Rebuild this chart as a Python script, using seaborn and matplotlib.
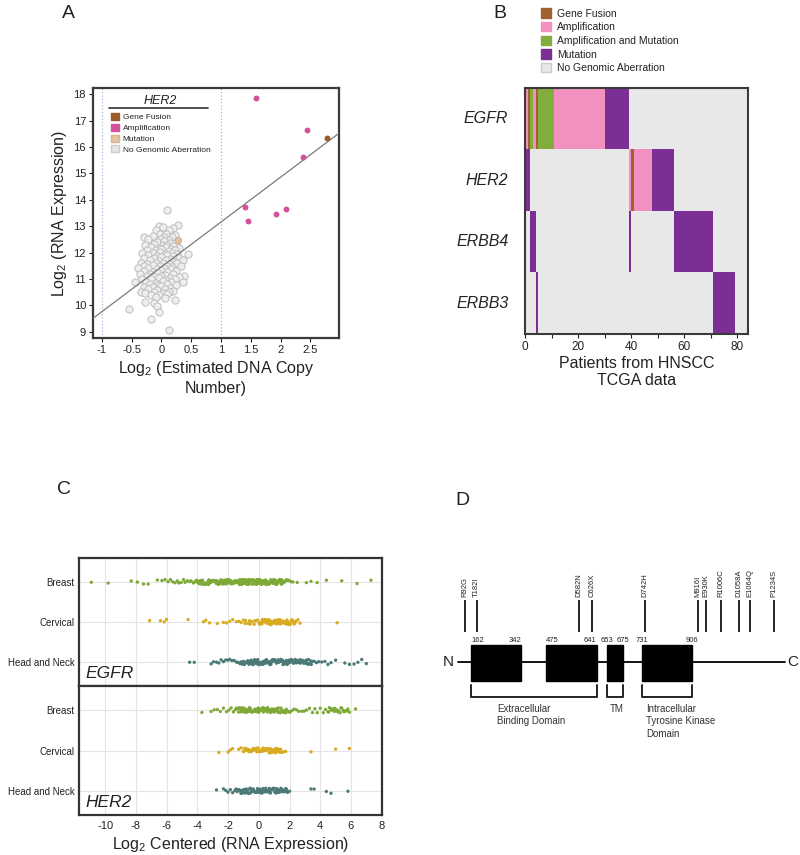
import numpy as np
import pandas as pd
import matplotlib
matplotlib.use("Agg")
import matplotlib.pyplot as plt
import seaborn as sns
from matplotlib.colors import ListedColormap
from matplotlib.patches import Patch, Rectangle
from matplotlib.lines import Line2D

# ---------------- data ----------------
# Panel A: HER2 copy number vs RNA expression
gray_x = [0.10, 0.28, -0.05, 0.02, 0.20, -0.10, 0.12, -0.02, 0.08, 0.22, -0.30, -0.15, 0.05, 0.18,
          -0.22, 0.00, 0.12, -0.08, 0.05, 0.15, 0.25, -0.28, -0.12, 0.02, 0.10, 0.20, -0.18, -0.05,
          0.08, 0.16, 0.30, -0.25, -0.10, 0.00, 0.12, 0.22, -0.32, -0.15, -0.02, 0.06, 0.18, 0.26,
          0.44, -0.22, -0.08, 0.10, 0.20, -0.30, -0.12, 0.00, 0.14, 0.30, -0.20, -0.05, 0.08, 0.22,
          0.36, -0.35, -0.25, -0.10, 0.02, 0.12, 0.26, -0.30, -0.15, -0.02, 0.10, 0.18, 0.32, -0.40,
          -0.22, -0.08, 0.04, 0.16, -0.30, -0.14, 0.00, 0.10, 0.24, 0.38, -0.36, -0.20, -0.06, 0.06,
          0.20, -0.25, -0.12, 0.00, 0.14, 0.30, -0.32, -0.18, -0.04, 0.08, 0.22, -0.45, -0.26, -0.10,
          0.02, 0.16, 0.36, -0.20, -0.06, 0.10, 0.24, -0.30, -0.14, 0.00, 0.14, -0.22, -0.08, 0.06,
          0.20, -0.35, -0.28, -0.12, 0.02, 0.12, -0.18, -0.04, 0.10, -0.10, 0.06, 0.22, -0.28, -0.12,
          -0.08, -0.54, -0.05, -0.17, 0.13]
gray_y = [13.62, 13.05, 13.00, 12.98, 12.95, 12.85, 12.86, 12.72, 12.70, 12.68, 12.60, 12.62, 12.60, 12.58,
          12.50, 12.52, 12.48, 12.40, 12.42, 12.38, 12.35, 12.30, 12.32, 12.28, 12.30, 12.26, 12.20, 12.18,
          12.22, 12.15, 12.18, 12.10, 12.08, 12.12, 12.05, 12.10, 12.00, 11.98, 12.02, 11.96, 12.00, 11.95,
          11.93, 11.90, 11.88, 11.90, 11.86, 11.80, 11.78, 11.82, 11.76, 11.80, 11.70, 11.68, 11.72, 11.66,
          11.70, 11.60, 11.58, 11.62, 11.60, 11.56, 11.60, 11.50, 11.52, 11.48, 11.50, 11.46, 11.50, 11.40,
          11.42, 11.38, 11.40, 11.36, 11.30, 11.28, 11.32, 11.26, 11.30, 11.12, 11.20, 11.18, 11.22, 11.16,
          11.20, 11.10, 11.08, 11.10, 11.05, 11.08, 11.00, 10.98, 11.02, 10.96, 11.00, 10.88, 10.90, 10.86,
          10.92, 10.88, 10.90, 10.80, 10.78, 10.82, 10.76, 10.70, 10.68, 10.72, 10.66, 10.60, 10.58, 10.62,
          10.56, 10.50, 10.48, 10.52, 10.46, 10.50, 10.40, 10.38, 10.42, 10.30, 10.28, 10.20, 10.12, 10.08,
          9.98, 9.87, 9.75, 9.48, 9.08]
amp_x = [1.58, 2.45, 2.38, 1.40, 1.46, 1.93, 2.09]
amp_y = [17.85, 16.64, 15.62, 13.72, 13.18, 13.48, 13.65]
fusion_x = [2.78]
fusion_y = [16.35]
mut_x = [0.27]
mut_y = [12.46]
fit_slope = 1.70
fit_intercept = 11.46

# Panel B: aberrations per patient (run lengths, 84 patients)
categories = ["Gene Fusion", "Amplification", "Amplification and Mutation", "Mutation",
              "No Genomic Aberration"]
genes = ["EGFR", "HER2", "ERBB4", "ERBB3"]
egfr_runs = [("Amplification", 1), ("Gene Fusion", 1), ("Amplification and Mutation", 1),
             ("Amplification", 1), ("Gene Fusion", 1), ("Amplification and Mutation", 6),
             ("Amplification", 19), ("Mutation", 9), ("No Genomic Aberration", 45)]
her2_runs = [("Mutation", 2), ("No Genomic Aberration", 37), ("Amplification", 1), ("Gene Fusion", 1),
             ("Amplification", 7), ("Mutation", 8), ("No Genomic Aberration", 28)]
erbb4_runs = [("No Genomic Aberration", 2), ("Mutation", 2), ("No Genomic Aberration", 35),
              ("Mutation", 1), ("No Genomic Aberration", 16), ("Mutation", 15),
              ("No Genomic Aberration", 13)]
erbb3_runs = [("No Genomic Aberration", 4), ("Mutation", 1), ("No Genomic Aberration", 66),
              ("Mutation", 8), ("No Genomic Aberration", 5)]

# Panel C: log2 centered RNA expression
tissues = ["Breast", "Cervical", "Head and Neck"]
egfr_breast = [-10.9, -9.8, -8.3, -7.9, -7.5, -7.2, -6.6, -6.3, -6.1, -5.9, -5.75, -5.6, -5.45, -5.3,
               -5.2, -5.05, -4.9, -4.8, -4.65, -4.5, -4.4, -4.25, -4.15,
               -4.05, -3.98, -3.9, -3.84, -3.77, -3.7, -3.63, -3.57, -3.5, -3.43, -3.37, -3.3, -3.24,
               -3.17, -3.1, -3.04, -2.97, -2.9, -2.84, -2.78, -2.71, -2.65, -2.58, -2.52, -2.45, -2.39,
               -2.32, -2.26, -2.2, -2.13, -2.07, -2.0, -1.94, -1.87, -1.81, -1.75, -1.68, -1.62, -1.55,
               -1.49, -1.42, -1.36, -1.3, -1.23, -1.17, -1.1, -1.04, -0.98, -0.91, -0.85, -0.78, -0.72,
               -0.66, -0.59, -0.53, -0.46, -0.4, -0.34, -0.27, -0.21, -0.14, -0.08, -0.02, 0.05, 0.11,
               0.18, 0.24, 0.3, 0.37, 0.43, 0.5, 0.56, 0.63, 0.69, 0.75, 0.82, 0.88, 0.95, 1.01, 1.08,
               1.14, 1.2, 1.27, 1.33, 1.4, 1.47, 1.53, 1.6, 1.68, 1.77, 1.86,
               -2.47, -2.36, -2.28, -2.16, -2.05, -1.97, -1.84, -1.76, -1.65, -1.53, -1.46, -1.33, -1.26,
               -1.14, -1.06, -0.95, -0.83, -0.75, -0.64, -0.56, -0.43, -0.36, -0.25, -0.12, -0.05, 0.07,
               0.15, 0.26, 0.34, 0.46, 0.53, 0.65, 0.74, 0.86, 0.93, 1.05, 1.16,
               -3.93, -3.8, -3.66, -3.53, -3.4, -3.27, -3.14, -3.01, -2.88, -2.75, -2.62, -2.55, -2.42,
               -2.3, -2.23, -2.1, -1.99, -1.91, -1.79, -1.71, -1.6, -1.51, -1.39, -1.28, -1.2, -1.08,
               -1.0, -0.88, -0.8, -0.69, -0.61, -0.5, -0.38, -0.3, -0.18, -0.1, 0.01, 0.09, 0.2, 0.28,
               0.4, 0.48, 0.59, 0.67, 0.78, 0.9, 0.98, 1.1, 1.23, 1.36, 1.5, 1.64, 1.8,
               1.97, 2.1, 2.22, 2.5, 3.1, 3.4, 3.8, 4.4, 5.4, 6.4, 7.3]
egfr_cervical = [-7.1, -6.4, -6.15, -6.0, -4.6, -3.6, -3.45, -3.2, -2.7, -2.3, -2.1, -1.9, -1.7, -1.45,
                 -1.3, -1.15, -1.0, -0.85, -0.7, -0.6, -0.45, -0.3, -0.2, -0.08,
                 0.02, 0.1, 0.17, 0.24, 0.3, 0.38, 0.45, 0.51, 0.58, 0.66, 0.72, 0.79, 0.86, 0.93, 1.0,
                 1.07, 1.14, 1.2, 1.28, 1.35, 1.41, 1.48, 1.56, 1.62, 1.7, 1.77, 1.84, 1.9, 1.98, 2.05,
                 2.12, 2.2, 2.3, 2.41, 2.55, 2.68, 0.35, 0.6, 0.83, 1.1, 1.3, 1.55, 1.8, 2.0,
                 -0.9, -0.55, -0.25, 0.06, 0.21, 0.42, 0.55, 0.7, 0.9, 1.03, 1.17, 1.24, 1.38, 1.45,
                 1.6, 1.66, 1.87, 1.95, 2.16, 2.25, 2.36, 5.1]
egfr_hnsc = [-4.5, -4.2, -3.1, -2.95, -2.75, -2.6, -2.45, -2.3, -2.15, -2.0, -1.9, -1.75, -1.6, -1.45,
             -1.35, -1.22, -1.15, -1.08, -1.0, -0.93, -0.86, -0.79, -0.72, -0.64, -0.57, -0.5, -0.43,
             -0.36, -0.28, -0.21, -0.14, -0.07, 0.0, 0.07, 0.14, 0.21, 0.29, 0.36, 0.43, 0.5, 0.57,
             0.64, 0.72, 0.79, 0.86, 0.93, 1.0, 1.07, 1.15, 1.22, 1.29, 1.36, 1.43, 1.5, 1.58, 1.65,
             1.72, 1.79, 1.86, 1.93, 2.01, 2.08, 2.15, 2.22, 2.29, 2.36, 2.44, 2.51, 2.58, 2.65, 2.72,
             2.8, 2.87, 2.94, 3.01, 3.08, 3.16, 3.23, 3.3, 3.38, 3.46,
             -0.95, -0.68, -0.4, -0.1, 0.18, 0.47, 0.75, 1.04, 1.33, 1.62, 1.9, 2.2, 2.48, 2.77, 3.05,
             -1.18, -1.04, -0.9, -0.76, -0.6, -0.47, -0.32, -0.18, -0.03, 0.1, 0.25, 0.39, 0.53, 0.68,
             0.83, 0.97, 1.11, 1.26, 1.4, 1.54, 1.69, 1.83, 1.97, 2.12, 2.26, 2.4, 2.55, 2.69, 2.84,
             2.98, 3.12, 3.27, 3.42,
             3.6, 3.75, 3.9, 4.1, 4.3, 4.5, 4.7, 5.0, 5.6, 5.9, 6.2, 6.45, 6.7, 7.0]
her2_breast = [-3.7, -3.1, -2.9, -2.7, -2.5, -2.3, -2.1, -1.95, -1.8, -1.65, -1.52,
               -1.45, -1.38, -1.31, -1.24, -1.17, -1.1, -1.03, -0.96, -0.89, -0.82, -0.75, -0.68,
               -0.61, -0.54, -0.47, -0.4, -0.33, -0.26, -0.19, -0.12, -0.05, 0.02, 0.09, 0.16, 0.23,
               0.3, 0.37, 0.44, 0.51, 0.58, 0.65, 0.72, 0.79, 0.86, 0.93, 1.0, 1.07, 1.14, 1.21, 1.28,
               1.36, 1.44, 1.52, 1.61, 1.7, 1.8, 1.9, 2.02, 2.15,
               -1.2, -0.9, -0.6, -0.3, 0.0, 0.3, 0.6, 0.9, 1.2,
               -1.42, -1.28, -1.14, -1.0, -0.86, -0.72, -0.57, -0.43, -0.29, -0.15, -0.01, 0.13, 0.27,
               0.41, 0.55, 0.69, 0.83, 0.97, 1.11, 1.25, 1.4, 1.56, 1.75, 1.95,
               2.3, 2.45, 2.6, 2.8, 2.95, 3.1, 3.3, 3.5, 3.65, 3.8, 4.0, 4.2, 4.35, 4.5, 4.6, 4.7, 4.8,
               4.9, 5.0, 5.1, 5.2, 5.3, 5.4, 5.5, 5.6, 5.7, 5.8, 5.9, 6.3,
               4.55, 4.75, 4.95, 5.15, 5.35, 5.55, 5.75]
her2_cervical = [-2.6, -2.0, -1.85, -1.7, -1.3, -1.15,
                 -1.0, -0.92, -0.84, -0.76, -0.68, -0.6, -0.52, -0.44, -0.36, -0.28, -0.2, -0.12,
                 -0.04, 0.04, 0.12, 0.2, 0.28, 0.36, 0.44, 0.52, 0.6, 0.68, 0.76, 0.84, 0.92, 1.0,
                 1.08, 1.16, 1.24, 1.33, 1.42, 1.52, 1.62, -0.7, -0.4, -0.1, 0.2, 0.5, 0.8, 1.1,
                 -0.96, -0.8, -0.64, -0.48, -0.32, -0.16, 0.0, 0.16, 0.32, 0.48, 0.64, 0.8, 0.96, 1.12,
                 1.28, 1.45, 1.75, 3.4, 5.0, 5.9]
her2_hnsc = [-2.75, -2.3, -2.15, -2.0, -1.85, -1.7,
             -1.55, -1.48, -1.41, -1.34, -1.27, -1.2, -1.13, -1.06, -0.99, -0.92, -0.85, -0.78, -0.71,
             -0.64, -0.57, -0.5, -0.43, -0.36, -0.29, -0.22, -0.15, -0.08, -0.01, 0.06, 0.13, 0.2,
             0.27, 0.34, 0.41, 0.48, 0.55, 0.62, 0.69, 0.76, 0.83, 0.9, 0.97, 1.04, 1.11, 1.18, 1.25,
             1.32, 1.39, 1.46, 1.53, 1.6, 1.68, 1.76, 1.84,
             -1.3, -1.05, -0.8, -0.55, -0.3, -0.05, 0.2, 0.45, 0.7, 0.95, 1.2, 1.45, 1.7,
             -1.5, -1.37, -1.16, -0.96, -0.74, -0.53, -0.33, -0.12, 0.09, 0.3, 0.51, 0.72, 0.93, 1.14,
             1.35, 1.56, 1.72, 1.8, 1.88,
             2.0, 3.4, 3.6, 4.4, 4.7, 5.8]

# Panel D: HER2 protein domains and mutations
protein_length = 1255
domain_bounds = [(162, 342), (475, 641), (653, 675), (731, 906)]
bracket_bounds = [(162, 641), (653, 675), (731, 906)]
bracket_names = ["Extracellular\nBinding Domain", "TM", "Intracellular\nTyrosine Kinase\nDomain"]
mutation_names = ["R92G", "T182I", "D582N", "C626X", "D742H", "M916I", "E930K", "R1006C",
                  "D1058A", "E1064Q", "P1234S"]
mutation_pos = [92, 182, 582, 626, 742, 916, 930, 1006, 1058, 1064, 1234]

# ---------------- style ----------------
sns.set_theme(style="white")
plt.rcParams["font.family"] = ["Liberation Sans", "DejaVu Sans"]
plt.rcParams["mathtext.fontset"] = "custom"
plt.rcParams["mathtext.rm"] = "Liberation Sans"
plt.rcParams["text.color"] = "#222222"
plt.rcParams["axes.labelcolor"] = "#222222"
plt.rcParams["xtick.color"] = "#222222"
plt.rcParams["ytick.color"] = "#222222"

W, H = 800, 855
fig = plt.figure(figsize=(W / 100, H / 100), dpi=100)


def box(left, top, right, bottom):
    return [left / W, 1 - bottom / H, (right - left) / W, (bottom - top) / H]


def frame(ax, lw=1.5, color="#3a3a3a"):
    for sp in ax.spines.values():
        sp.set_visible(True)
        sp.set_linewidth(lw)
        sp.set_color(color)


# ---------------- Panel A ----------------
axA = fig.add_axes(box(93, 88, 339, 338))
axA.axvline(-1, color="#aab6e2", ls=":", lw=0.9, zorder=1)
axA.axvline(1, color="#f095ae", ls=":", lw=0.9, zorder=1)
sns.scatterplot(x=gray_x, y=gray_y, s=27, color="#eeeeee", edgecolor="#bdbdbd", linewidth=0.7,
                ax=axA, zorder=2)
axA.axline((0, fit_intercept), slope=fit_slope, color="#7a7a7a", lw=0.9, zorder=3)
sns.scatterplot(x=mut_x, y=mut_y, s=22, color="#e6c2a4", edgecolor="#d0a27c", linewidth=0.5,
                ax=axA, zorder=4)
sns.scatterplot(x=amp_x, y=amp_y, s=18, color="#d6519c", linewidth=0, ax=axA, zorder=4)
sns.scatterplot(x=fusion_x, y=fusion_y, s=18, color="#9b5a2a", linewidth=0, ax=axA, zorder=5)
axA.set_xlim(-1.15, 2.98)
axA.set_ylim(8.76, 18.24)
xt = [-1, -0.5, 0, 0.5, 1, 1.5, 2, 2.5]
axA.set_xticks(xt)
axA.set_xticklabels(["-1", "-0.5", "0", "0.5", "1", "1.5", "2", "2.5"])
axA.set_yticks(range(9, 19))
axA.tick_params(bottom=True, left=True, length=3, width=0.8, labelsize=8, pad=2)
frame(axA, lw=1.6)
axA.set_xlabel(r"$\mathregular{Log_2}$ (Estimated DNA Copy" + "\nNumber)", fontsize=11.5, labelpad=3)
axA.set_ylabel(r"$\mathregular{Log_2}$ (RNA Expression)", fontsize=11.5, labelpad=3)

legA = [Patch(facecolor="#9b5a2a", edgecolor="#9b5a2a"),
        Patch(facecolor="#d6519c", edgecolor="#d6519c"),
        Patch(facecolor="#e6c2a4", edgecolor="#d8b496"),
        Patch(facecolor="#e6e6e6", edgecolor="#cccccc")]
axA.legend(legA, ["Gene Fusion", "Amplification", "Mutation", "No Genomic Aberration"],
           loc="upper left", bbox_to_anchor=(111 / W, 1 - 113 / H), bbox_transform=fig.transFigure,
           frameon=False, fontsize=6, handlelength=0.9, handleheight=0.9, handletextpad=0.5,
           labelspacing=0.3, borderpad=0, borderaxespad=0)
fig.text(160 / W, 1 - 101 / H, "HER2", style="italic", fontsize=9, ha="center", va="center")
fig.add_artist(Line2D([109 / W, 208 / W], [1 - 108 / H, 1 - 108 / H], color="#333333", lw=1.2))

# ---------------- Panel B ----------------
cat_colors = ["#a3602f", "#f291bf", "#82ad3c", "#7b2f95", "#e8e8e8"]
code = {c: i for i, c in enumerate(categories)}
rows = []
for runs in [egfr_runs, her2_runs, erbb4_runs, erbb3_runs]:
    rows.append(np.repeat([code[c] for c, n in runs], [n for c, n in runs]))
mat = pd.DataFrame(np.vstack(rows), index=genes)

axB = fig.add_axes(box(525, 88, 748, 334))
sns.heatmap(mat, cmap=ListedColormap(cat_colors), vmin=-0.5, vmax=4.5, cbar=False, ax=axB,
            linewidths=0)
axB.set_xticks([0, 20, 40, 60, 80])
axB.set_xticklabels(["0", "20", "40", "60", "80"], rotation=0)
axB.set_xticks([10, 30, 50, 70], minor=True)
axB.set_yticks([0.5, 1.5, 2.5, 3.5])
axB.set_yticklabels(genes, rotation=0, style="italic", fontsize=11.5)
axB.tick_params(axis="x", which="both", bottom=True, length=3, width=0.8, labelsize=8.5, pad=2)
axB.tick_params(axis="y", left=False, pad=6)
frame(axB, lw=1.5)
axB.set_xlabel("Patients from HNSCC\nTCGA data", fontsize=11.5, labelpad=2)
axB.set_ylabel("")

legB = [Patch(facecolor=c, edgecolor=("#cccccc" if i == 4 else c)) for i, c in enumerate(cat_colors)]
fig.legend(legB, categories, loc="upper left", bbox_to_anchor=(540.5 / W, 1 - 8.5 / H),
           frameon=False, fontsize=7.5, handlelength=1.0, handleheight=1.0, handletextpad=0.55,
           labelspacing=0.33, borderpad=0, borderaxespad=0)

# ---------------- Panel C ----------------
tissue_colors = {"Breast": "#7fa936", "Cervical": "#d8aa1f", "Head and Neck": "#4a7977"}


def strip_df(values):
    parts = [pd.DataFrame({"expr": v, "tissue": t}) for t, v in zip(tissues, values)]
    return pd.concat(parts, ignore_index=True)


np.random.seed(3)
axC1 = fig.add_axes(box(79, 558, 382, 686))
axC2 = fig.add_axes(box(79, 686, 382, 815), sharex=axC1)
for ax, vals, gene in [(axC1, [egfr_breast, egfr_cervical, egfr_hnsc], "EGFR"),
                       (axC2, [her2_breast, her2_cervical, her2_hnsc], "HER2")]:
    sns.stripplot(data=strip_df(vals), x="expr", y="tissue", hue="tissue", order=tissues,
                  hue_order=tissues, palette=tissue_colors, jitter=0.065, size=2.4, linewidth=0,
                  legend=False, ax=ax, zorder=3)
    ax.set_xlim(-11.7, 8.02)
    ax.set_ylim(2.6, -0.6)
    ax.set_xticks(range(-10, 9, 2))
    ax.grid(True, color="#e4e4e4", lw=0.8)
    ax.set_axisbelow(True)
    ax.tick_params(axis="y", length=0, labelsize=7, pad=3)
    ax.tick_params(axis="x", length=0, labelsize=8, pad=4)
    ax.set_ylabel("")
    frame(ax, lw=1.6, color="#333333")
    ax.text(0.02, 0.04, gene, transform=ax.transAxes, style="italic", fontsize=12.5,
            ha="left", va="bottom")
axC1.tick_params(axis="x", labelbottom=False)
axC1.set_xlabel("")
axC2.set_xticklabels([str(v) for v in range(-10, 9, 2)])
axC2.set_xlabel(r"$\mathregular{Log_2}$ Centered (RNA Expression)", fontsize=11.5, labelpad=3)

# ---------------- Panel D ----------------
# schematic (not to scale) drawing scale: residue -> horizontal position
sch_res = [-120, 1, 162, 342, 475, 641, 653, 675, 731, 906, 930, 1006, 1058, 1064, 1234, 1255, 1400]
sch_pos = [440, 458, 471, 521, 545.7, 596.7, 606.7, 622.7, 641.7, 692.3, 706, 721, 739, 750, 774,
           785, 800]
axD = fig.add_axes(box(440, 560, 800, 760))
axD.set_xscale("function", functions=(lambda r: np.interp(r, sch_res, sch_pos),
                                      lambda p: np.interp(p, sch_pos, sch_res)))
axD.set_xlim(-120, 1400)
axD.set_ylim(760, 560)
axD.axis("off")

axD.plot([1, protein_length], [662, 662], color="black", lw=1.3, zorder=1)
for s, e in domain_bounds:
    axD.add_patch(Rectangle((s, 645), e - s, 36, facecolor="black", edgecolor="black", zorder=2))
num_align = ["left", "right", "left", "right", "center", "center", "center", "center"]
nums = [v for b in domain_bounds for v in b]
for v, ha in zip(nums, num_align):
    axD.text(v, 643.5, str(v), fontsize=5.5, ha=ha, va="bottom")
axD.vlines(mutation_pos, 600, 632, color="black", lw=1.2)
for name, p in zip(mutation_names, mutation_pos):
    axD.text(p, 597, name, rotation=90, fontsize=5.5, ha="center", va="bottom")
bracket_text_res = [255, 657, 746]
for (s, e), name, tx in zip(bracket_bounds, bracket_names, bracket_text_res):
    axD.plot([s, s, e, e], [685, 697, 697, 685], color="#222222", lw=1.4)
    axD.text(tx, 704, name, fontsize=7, ha="left", va="top", linespacing=1.3, color="#333333")
fig.text(448 / W, 1 - 662 / H, "N", fontsize=11, ha="center", va="center")
fig.text(793 / W, 1 - 662 / H, "C", fontsize=11, ha="center", va="center")

# panel letters
for lbl, x, y in [("A", 68, 14), ("B", 500, 14), ("C", 64, 489), ("D", 462, 500)]:
    fig.text(x / W, 1 - y / H, lbl, fontsize=14, ha="center", va="center")

fig.savefig("out.png", dpi=100)
